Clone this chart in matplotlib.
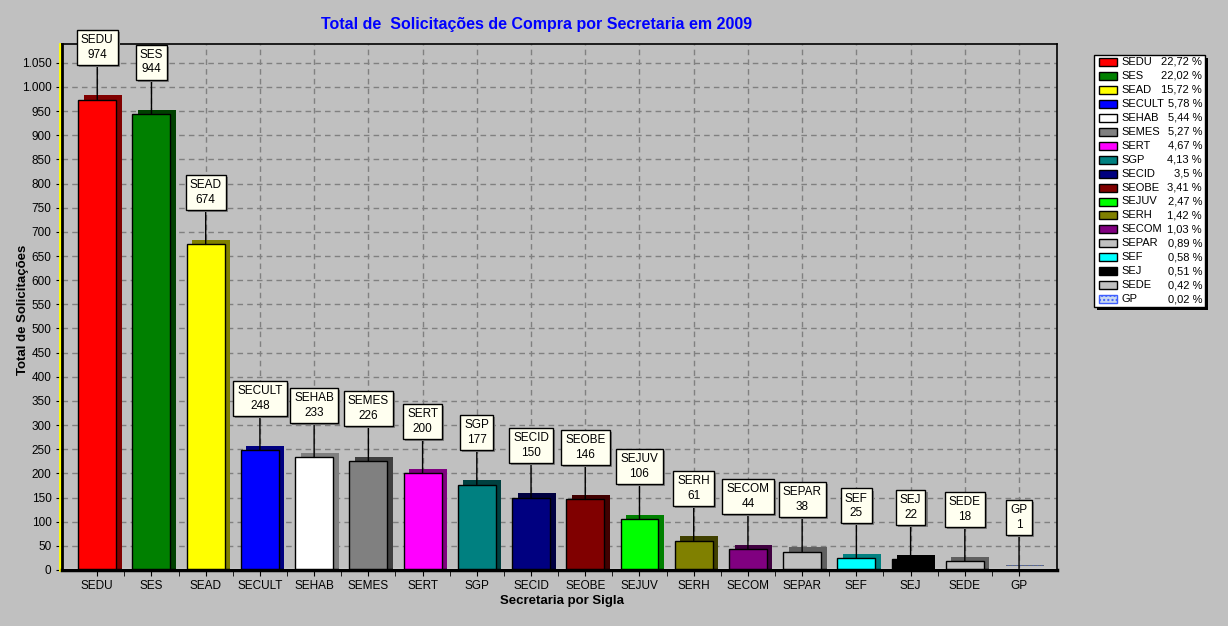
import matplotlib
matplotlib.use("Agg")
import matplotlib.pyplot as plt
import matplotlib.patheffects as pe
from matplotlib.patches import Rectangle
from matplotlib.ticker import FuncFormatter, MultipleLocator
import numpy as np

plt.rcParams["font.family"] = ["Liberation Sans", "DejaVu Sans"]

# dados
siglas = ["SEDU", "SES", "SEAD", "SECULT", "SEHAB", "SEMES", "SERT", "SGP", "SECID",
          "SEOBE", "SEJUV", "SERH", "SECOM", "SEPAR", "SEF", "SEJ", "SEDE", "GP"]
totais = [974, 944, 674, 248, 233, 226, 200, 177, 150, 146, 106, 61, 44, 38, 25, 22, 18, 1]
percentuais = ["22,72 %", "22,02 %", "15,72 %", "5,78 %", "5,44 %", "5,27 %", "4,67 %",
               "4,13 %", "3,5 %", "3,41 %", "2,47 %", "1,42 %", "1,03 %", "0,89 %",
               "0,58 %", "0,51 %", "0,42 %", "0,02 %"]
cores = ["#ff0000", "#008000", "#ffff00", "#0000ff", "#ffffff", "#808080", "#ff00ff",
         "#008080", "#000080", "#800000", "#00ff00", "#808000", "#800080", "#c0c0c0",
         "#00ffff", "#000000", "#c0c0c0", "#c8d8f0"]

W, H = 1228, 626
fig = plt.figure(figsize=(W / 100, H / 100), dpi=100)
fig.patch.set_facecolor("#c0c0c0")
ax = fig.add_axes([62 / W, (H - 570) / H, (1057 - 62) / W, (570 - 44) / H])
ax.set_facecolor("#c0c0c0")

x = np.arange(len(siglas))
for i in range(len(siglas)):
    c = np.array(matplotlib.colors.to_rgb(cores[i]))
    escuro = c * 0.5 if cores[i] != "#ffffff" else np.array([0.5, 0.5, 0.5])
    hatch = "...." if siglas[i] == "GP" else None
    b = ax.bar(x[i], totais[i], width=0.70, color=cores[i],
               edgecolor="black" if siglas[i] != "GP" else "#4060ff",
               linewidth=1, zorder=3, hatch=hatch)
    b[0].set_path_effects([pe.SimplePatchShadow(offset=(4, 0), shadow_rgbFace=escuro, alpha=1),
                           pe.SimplePatchShadow(offset=(4, 3), shadow_rgbFace=escuro, alpha=1),
                           pe.Normal()])
    t = ax.annotate(siglas[i] + "\n" + str(totais[i]), xy=(x[i], totais[i]),
                    xytext=(0, 52), textcoords="offset pixels", ha="center", va="center",
                    fontsize=8.5, linespacing=1.3, zorder=5,
                    bbox=dict(boxstyle="square,pad=0.35", facecolor="#fffff0", edgecolor="black", lw=1),
                    arrowprops=dict(arrowstyle="-", color="black", lw=1, shrinkA=0, shrinkB=0))
    t.get_bbox_patch().set_path_effects([pe.SimplePatchShadow(offset=(1.5, -1.5), shadow_rgbFace="#808080", alpha=1),
                                         pe.Normal()])

ax.set_xlim(-0.65, 17.7)
ax.set_ylim(0, 1089)
ax.yaxis.set_major_locator(MultipleLocator(50))
ax.yaxis.set_major_formatter(FuncFormatter(lambda v, p: f"{int(v):,}".replace(",", ".")))
ax.set_xticks(x)
ax.set_xticklabels(siglas)
ax.set_xticks(x[:-1] + 0.5, minor=True)
ax.tick_params(axis="both", labelsize=8.5, length=4, color="black", direction="out")
ax.tick_params(axis="x", which="minor", length=4)
ax.tick_params(axis="x", pad=3)
ax.grid(True, color="#808080", linestyle=(0, (4, 3)), linewidth=1, zorder=0)
ax.set_axisbelow(True)
for s in ax.spines.values():
    s.set_color("black")
    s.set_linewidth(1.2)
ax.spines["left"].set_linewidth(2)

# chao e parede
ax.axhline(3, color="white", lw=1.5, zorder=2)
ax.axhline(0, color="black", lw=2.5, zorder=4, clip_on=False)
ax.axvline(-0.65 - 0.035, color="#ffff00", lw=2, clip_on=False, zorder=1)

fig.text(537 / W, 1 - 24 / H, "Total de  Solicitações de Compra por Secretaria em 2009",
         color="#0000ff", fontsize=11.5, fontweight="bold", ha="center", va="center")
fig.text(562 / W, 1 - 601 / H, "Secretaria por Sigla", fontsize=9.5, fontweight="bold",
         ha="center", va="center")
fig.text(23 / W, 1 - 310 / H, "Total de Solicitações", fontsize=9.5, fontweight="bold",
         ha="center", va="center", rotation=90)

# legenda
lax = fig.add_axes([1094 / W, (H - 307) / H, (1205 - 1094) / W, (307 - 55) / H])
lax.set_xlim(0, 111)
lax.set_ylim(252, 0)
lax.axis("off")
fundo = Rectangle((0, 0), 111, 252, facecolor="white", edgecolor="black", lw=1, clip_on=False)
fundo.set_path_effects([pe.SimplePatchShadow(offset=(2.5, -2.5), shadow_rgbFace="black", alpha=1), pe.Normal()])
lax.add_patch(fundo)
for i in range(len(siglas)):
    yy = 7 + i * 13.95
    hatch = "...." if siglas[i] == "GP" else None
    lax.add_patch(Rectangle((5, yy - 4), 18, 8, facecolor=cores[i],
                            edgecolor="black" if siglas[i] != "GP" else "#4060ff", lw=1, hatch=hatch))
    lax.text(27, yy, siglas[i], fontsize=8, va="center", ha="left")
    lax.text(108, yy, percentuais[i], fontsize=8, va="center", ha="right")

fig.savefig("out.png", dpi=100, facecolor=fig.get_facecolor())
